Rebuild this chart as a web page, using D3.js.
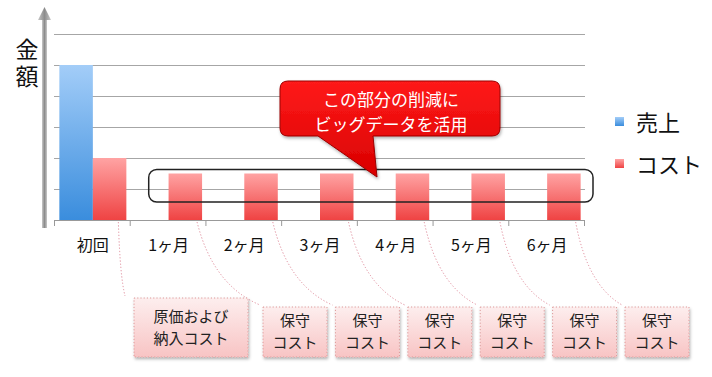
<!DOCTYPE html>
<html>
<head>
<meta charset="utf-8">
<script src="https://cdn.jsdelivr.net/npm/d3@7"></script>
<style>
  body { margin: 0; background: #fff; }
  text { font-family: "Noto Sans CJK JP", "Noto Sans", sans-serif; }
</style>
</head>
<body>
<div id="chart"></div>
<script>
const categories = ['初回', '1ヶ月', '2ヶ月', '3ヶ月', '4ヶ月', '5ヶ月', '6ヶ月']
const sales = [5, 0, 0, 0, 0, 0, 0]
const cost = [2, 1.5, 1.5, 1.5, 1.5, 1.5, 1.5]
const y_ticks = [0, 1, 2, 3, 4, 5, 6]
const series_names = ['売上', 'コスト']
const axis_title = '金額'
const callout_lines = ['この部分の削減に', 'ビッグデータを活用']
const note_lines = [
  ['原価および', '納入コスト'],
  ['保守', 'コスト'], ['保守', 'コスト'], ['保守', 'コスト'],
  ['保守', 'コスト'], ['保守', 'コスト'], ['保守', 'コスト']
]

const width = 712, height = 377
const plot = {left: 55, right: 585, top: 34, bottom: 220}

const svg = d3.select('#chart').append('svg')
  .attr('width', width)
  .attr('height', height)

const defs = svg.append('defs')

function add_gradient(id, top, bottom) {
  const g = defs.append('linearGradient').attr('id', id)
    .attr('x1', 0).attr('y1', 0).attr('x2', 0).attr('y2', 1)
  g.append('stop').attr('offset', '0%').attr('stop-color', top)
  g.append('stop').attr('offset', '100%').attr('stop-color', bottom)
}
add_gradient('grad-sales', '#a3cdf8', '#3a8ddd')
add_gradient('grad-cost', '#ffa3a3', '#ef4343')
add_gradient('grad-callout', '#ff1a1a', '#d80000')
add_gradient('grad-note', '#fdeeee', '#f8c4c4')

const arrow_grad = defs.append('linearGradient').attr('id', 'grad-arrow')
  .attr('x1', 0).attr('y1', 0).attr('x2', 1).attr('y2', 0)
arrow_grad.append('stop').attr('offset', '0%').attr('stop-color', '#c8c8c8')
arrow_grad.append('stop').attr('offset', '50%').attr('stop-color', '#8c8c8c')
arrow_grad.append('stop').attr('offset', '100%').attr('stop-color', '#c8c8c8')

const shadow = defs.append('filter').attr('id', 'shadow')
  .attr('x', '-10%').attr('y', '-10%').attr('width', '130%').attr('height', '140%')
shadow.append('feDropShadow').attr('dx', 1).attr('dy', 2)
  .attr('stdDeviation', 1.5).attr('flood-color', '#000').attr('flood-opacity', 0.3)

const x = d3.scaleBand()
  .domain(categories)
  .range([plot.left, plot.right])
  .padding(0)

const x_sub = d3.scaleBand()
  .domain(['sales', 'cost'])
  .range([0, x.bandwidth()])
  .paddingInner(0)
  .paddingOuter(0.13)

const y = d3.scaleLinear()
  .domain([0, 6])
  .range([plot.bottom, plot.top])

// gridlines
svg.append('g')
  .selectAll('line')
  .data(y_ticks.slice(1))
  .join('line')
  .attr('x1', plot.left - 1)
  .attr('x2', plot.right)
  .attr('y1', d => y(d) + 0.5)
  .attr('y2', d => y(d) + 0.5)
  .style('stroke', '#a6a6a6')
  .style('stroke-width', 1)

// bars
const groups = svg.append('g')
  .selectAll('g')
  .data(categories.map((c, i) => ({cat: c, sales: sales[i], cost: cost[i]})))
  .join('g')
  .attr('transform', d => `translate(${x(d.cat)},0)`)

groups.append('rect')
  .attr('x', x_sub('sales'))
  .attr('width', x_sub.bandwidth())
  .attr('y', d => y(d.sales))
  .attr('height', d => y(0) - y(d.sales))
  .style('fill', 'url(#grad-sales)')

groups.append('rect')
  .attr('x', x_sub('cost'))
  .attr('width', x_sub.bandwidth())
  .attr('y', d => y(d.cost))
  .attr('height', d => y(0) - y(d.cost))
  .style('fill', 'url(#grad-cost)')

// category axis
const x_axis = svg.append('g')
x_axis.append('line')
  .attr('x1', plot.left).attr('x2', plot.right)
  .attr('y1', plot.bottom + 0.5).attr('y2', plot.bottom + 0.5)
  .style('stroke', '#999')
x_axis.selectAll('line.tick')
  .data(categories.map(c => x(c)).concat([plot.right]))
  .join('line')
  .attr('class', 'tick')
  .attr('x1', d => d - 0.5).attr('x2', d => d - 0.5)
  .attr('y1', plot.bottom).attr('y2', plot.bottom + 6)
  .style('stroke', '#999')
x_axis.selectAll('text')
  .data(categories)
  .join('text')
  .attr('x', d => x(d) + x.bandwidth() / 2)
  .attr('y', 251)
  .attr('text-anchor', 'middle')
  .style('font-size', '16px')
  .style('fill', '#111')
  .text(d => d)

// value axis arrow
svg.append('rect')
  .attr('x', 42).attr('y', 18)
  .attr('width', 5).attr('height', 210)
  .style('fill', 'url(#grad-arrow)')
svg.append('path')
  .attr('d', 'M44.5,7 L51,20 L38,20 Z')
  .style('fill', 'url(#grad-arrow)')

// vertical title, one text element
svg.append('text')
  .attr('x', 27)
  .attr('y', 38)
  .style('writing-mode', 'vertical-rl')
  .style('text-orientation', 'upright')
  .style('letter-spacing', '4px')
  .style('font-size', '23px')
  .style('fill', '#111')
  .text(axis_title)

// highlight frame round the monthly bars
svg.append('rect')
  .attr('x', x(categories[1]) + 18)
  .attr('y', 169.5)
  .attr('width', plot.right + 8 - x(categories[1]) - 18)
  .attr('height', 32.5)
  .attr('rx', 8)
  .style('fill', 'none')
  .style('stroke', '#222')
  .style('stroke-width', 1.5)

// callout
const cx0 = 280, cx1 = 500, cy0 = 81, cy1 = 136, r = 8
const callout_path = `M${cx0 + r},${cy0} L${cx1 - r},${cy0} Q${cx1},${cy0} ${cx1},${cy0 + r}
  L${cx1},${cy1 - r} Q${cx1},${cy1} ${cx1 - r},${cy1}
  L373,${cy1} L377,177 L318,${cy1}
  L${cx0 + r},${cy1} Q${cx0},${cy1} ${cx0},${cy1 - r}
  L${cx0},${cy0 + r} Q${cx0},${cy0} ${cx0 + r},${cy0} Z`
svg.append('path')
  .attr('d', callout_path)
  .attr('filter', 'url(#shadow)')
  .style('fill', 'url(#grad-callout)')
  .style('stroke', '#9a0000')
  .style('stroke-width', 1)
svg.append('g')
  .selectAll('text')
  .data(callout_lines)
  .join('text')
  .attr('x', 391)
  .attr('y', (d, i) => 106 + i * 25)
  .attr('text-anchor', 'middle')
  .style('font-size', '17px')
  .style('fill', '#fff')
  .text(d => d)

// legend
const legend = svg.append('g')
  .selectAll('g')
  .data(series_names)
  .join('g')
  .attr('transform', (d, i) => `translate(615,${122 + i * 42})`)
legend.append('rect')
  .attr('x', 0).attr('y', -5)
  .attr('width', 9).attr('height', 9)
  .style('fill', (d, i) => i === 0 ? 'url(#grad-sales)' : 'url(#grad-cost)')
legend.append('text')
  .attr('x', 21).attr('y', 9)
  .style('font-size', '22px')
  .style('fill', '#111')
  .text(d => d)

// notes under the axis
const notes = note_lines.map((lines, i) => {
  const bar_right = x(categories[i]) + x_sub('cost') + x_sub.bandwidth()
  if (i === 0) return {lines, bar_right, x: 134, y: 298, w: 114, h: 59}
  return {lines, bar_right, x: 263 + (i - 1) * 72.4, y: 307, w: 64, h: 50}
})

svg.append('g')
  .selectAll('path')
  .data(notes)
  .join('path')
  .attr('d', (d, i) => {
    const x0 = d.bar_right - (i === 0 ? 8 : 5), y0 = 222
    const x1 = d.x - (i === 0 ? 9 : 3), y1 = d.y - 2
    return `M${x0},${y0} Q${x0 + (x1 - x0) * 0.25},${y1 - 20} ${x1},${y1}`
  })
  .style('fill', 'none')
  .style('stroke', '#e08a9a')
  .style('stroke-width', 1)
  .style('stroke-dasharray', '1.2,2')

const note_g = svg.append('g')
  .selectAll('g')
  .data(notes)
  .join('g')
  .attr('transform', d => `translate(${d.x},${d.y})`)
note_g.append('rect')
  .attr('width', d => d.w)
  .attr('height', d => d.h)
  .attr('filter', 'url(#shadow)')
  .style('fill', 'url(#grad-note)')
  .style('stroke', '#d99')
  .style('stroke-width', 1)
  .style('stroke-dasharray', '1.2,2')
note_g.append('text')
  .attr('text-anchor', 'middle')
  .style('font-size', '15px')
  .style('fill', '#222')
  .each(function (d) {
    d3.select(this).selectAll('tspan')
      .data(d.lines)
      .join('tspan')
      .attr('x', d.w / 2)
      .attr('y', (t, i) => d.h / 2 + 5 - 11 + i * 22)
      .text(t => t)
  })
</script>
</body>
</html>
